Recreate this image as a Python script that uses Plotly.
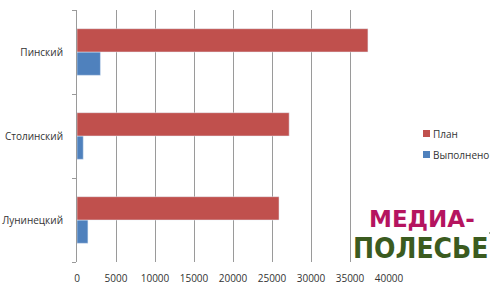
import plotly.graph_objects as go

categories = ["Лунинецкий", "Столинский", "Пинский"]
plan = [25900, 27200, 37300]
done = [1400, 800, 3000]
series_names = ["План", "Выполнено"]
x_ticks = [0, 5000, 10000, 15000, 20000, 25000, 30000, 35000, 40000]
x_tick_labels = [str(v) for v in x_ticks]

RED = "#C0504D"
BLUE = "#4F81BD"
FONT = "Open Sans"
W, H = 500, 290

fig = go.Figure()
fig.add_trace(go.Bar(y=categories, x=done, orientation="h", marker_color=BLUE,
                     name=series_names[1], showlegend=False))
fig.add_trace(go.Bar(y=categories, x=plan, orientation="h", marker_color=RED,
                     name=series_names[0], showlegend=False))

fig.update_layout(
    width=W, height=H,
    margin=dict(l=77, r=111, t=10, b=28, autoexpand=False),
    paper_bgcolor="white", plot_bgcolor="white",
    barmode="group", bargap=0.445, bargroupgap=0,
    font=dict(family=FONT, size=10, color="#333333"),
    showlegend=False,
    xaxis=dict(range=[0, 40000], tickvals=x_ticks, ticktext=x_tick_labels, showgrid=True,
               gridcolor="#9a9a9a", gridwidth=1, zeroline=False,
               showline=False, ticks="", tickfont=dict(size=10, color="#333333"),
               ticklabelstandoff=9, fixedrange=True),
    yaxis=dict(showline=True, linecolor="#9a9a9a", linewidth=1, ticks="outside",
               tickson="boundaries", ticklen=4, tickcolor="#9a9a9a",
               tickfont=dict(size=10, color="#333333"), ticklabelstandoff=11,
               showgrid=False),
)

# legend (series colours and names), drawn in container pixels
legend_colors = [RED, BLUE]
legend_y = [133.5, 154.5]
for name, col, yc in zip(series_names, legend_colors, legend_y):
    fig.add_shape(type="rect", xref="paper", yref="paper",
                  x0=(423 - 77) / 312, x1=(430 - 77) / 312,
                  y0=(262 - (yc + 3.5)) / 252, y1=(262 - (yc - 3.5)) / 252,
                  fillcolor=col, line=dict(width=0))
    fig.add_annotation(xref="paper", yref="paper", x=(432 - 77) / 312, y=(262 - yc) / 252,
                       text=name, showarrow=False, xanchor="left", yanchor="middle",
                       font=dict(size=10, color="#333333"), borderpad=0)

# watermark logo
fig.add_annotation(xref="paper", yref="paper", x=(422 - 77) / 312, y=(262 - 219.5) / 252,
                   text="<b>МЕДИА-</b>", showarrow=False, xanchor="center", yanchor="middle",
                   font=dict(family="DejaVu Sans", size=23, color="#B5145F"),
                   bgcolor="white", borderpad=0)
fig.add_annotation(xref="paper", yref="paper", x=(421 - 77) / 312, y=(262 - 248) / 252,
                   text="<b>ПОЛЕСЬЕ</b>", showarrow=False, xanchor="center", yanchor="middle",
                   font=dict(family="Liberation Sans Narrow, DejaVu Sans Condensed, sans-serif",
                             size=28, color="#3B5B1F"),
                   bgcolor="white", borderpad=0)
fig.add_shape(type="line", xref="paper", yref="paper",
              x0=(353 - 77) / 312, x1=(490 - 77) / 312,
              y0=(262 - 233) / 252, y1=(262 - 233) / 252,
              line=dict(color="#3B5B1F", width=2))

fig.write_html("out.html")
